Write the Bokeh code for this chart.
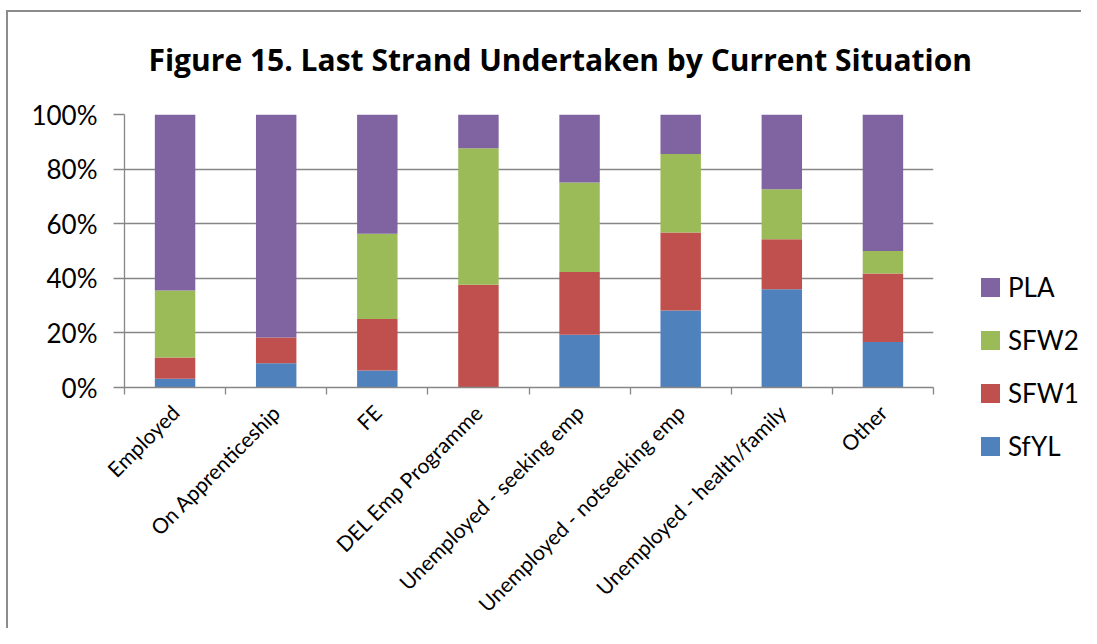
import numpy as np
from bokeh.plotting import figure
from bokeh.layouts import row
from bokeh.models import (FixedTicker, NumeralTickFormatter, ColumnDataSource,
                          Range1d, Title, Div)
from bokeh.embed import file_html
from bokeh.resources import INLINE

categories = ["Employed", "On Apprenticeship", "FE", "DEL Emp Programme",
              "Unemployed - seeking emp", "Unemployed - notseeking emp",
              "Unemployed - health/family", "Other"]
SfYL = [3.2, 8.9, 6.2, 0.0, 19.3, 28.2, 36.0, 16.7]
SFW1 = [7.8, 9.4, 18.9, 37.6, 23.0, 28.6, 18.3, 25.1]
SFW2 = [24.5, 0.0, 31.2, 50.0, 32.8, 28.7, 18.3, 8.2]
PLA = [64.5, 81.7, 43.7, 12.4, 24.9, 14.5, 27.4, 50.0]
series = ["SfYL", "SFW1", "SFW2", "PLA"]
colors = ["#4F81BD", "#C0504D", "#9BBB59", "#8064A2"]
y_ticks = [0, 0.2, 0.4, 0.6, 0.8, 1.0]

pos = [i + 0.5 for i in range(len(categories))]
src = ColumnDataSource(dict(
    x=pos,
    SfYL=[v / 100 for v in SfYL],
    SFW1=[v / 100 for v in SFW1],
    SFW2=[v / 100 for v in SFW2],
    PLA=[v / 100 for v in PLA],
))

FONT = "Lato"
GRAY = "#8c8c8c"
W1, W2, H = 980, 101, 628

p = figure(width=W1, height=H, output_backend="svg", toolbar_location=None,
           x_range=Range1d(0, len(categories)), y_range=Range1d(0, 1),
           min_border_left=124, min_border_right=47,
           min_border_top=114, min_border_bottom=240)
p.styles = {
    "background-image": f"linear-gradient({GRAY}, {GRAY}), linear-gradient({GRAY}, {GRAY})",
    "background-size": "2px 100%, 100% 2px",
    "background-position": "6px 10px, 6px 10px",
    "background-repeat": "no-repeat",
}
p.outline_line_color = None
p.background_fill_color = "white"
p.border_fill_alpha = 0

p.title = Title(text="Figure 15. Last Strand Undertaken by Current Situation",
                align="left", offset=24, text_font="Open Sans", text_font_style="bold",
                text_font_size="30px", text_color="#000000", standoff=70)

rs = p.vbar_stack(series, x="x", width=0.4, color=colors, source=src,
                  line_color=None)

# y axis
p.yaxis.ticker = FixedTicker(ticks=y_ticks)
p.yaxis.formatter = NumeralTickFormatter(format="0%")
p.yaxis.axis_line_color = "#868686"
p.yaxis.axis_line_width = 1.3
p.yaxis.major_tick_line_color = "#868686"
p.yaxis.major_tick_line_width = 1.3
p.yaxis.major_tick_out = 11
p.yaxis.major_tick_in = 0
p.yaxis.minor_tick_line_color = None
p.yaxis.major_label_standoff = 16
p.yaxis.major_label_text_font = FONT
p.yaxis.major_label_text_font_size = "26px"
p.yaxis.major_label_text_color = "#000000"

# x axis
p.xaxis.ticker = FixedTicker(ticks=pos, minor_ticks=list(range(len(categories) + 1)))
p.xaxis.major_label_overrides = {x: c for x, c in zip(pos, categories)}
p.xaxis.major_label_orientation = np.pi / 4
p.xaxis.major_tick_line_color = None
p.xaxis.major_tick_out = 0
p.xaxis.major_tick_in = 0
p.xaxis.minor_tick_line_color = "#868686"
p.xaxis.minor_tick_line_width = 1.3
p.xaxis.minor_tick_out = 7
p.xaxis.minor_tick_in = 0
p.xaxis.axis_line_color = "#868686"
p.xaxis.axis_line_width = 1.3
p.xaxis.major_label_standoff = 14
p.xaxis.major_label_text_font = FONT
p.xaxis.major_label_text_font_size = "21px"
p.xaxis.major_label_text_color = "#000000"

p.xgrid.grid_line_color = None
p.ygrid.ticker = FixedTicker(ticks=y_ticks)
p.ygrid.grid_line_color = "#868686"
p.ygrid.grid_line_width = 1.3

# legend (PLA on top, SfYL at the bottom)
rows_html = []
first_top, pitch = 271, 53
for i, (name, col) in enumerate(list(zip(series, colors))[::-1]):
    top = first_top + i * pitch
    rows_html.append(
        f'<div style="position:absolute;left:1px;top:{top}px;height:32px;'
        f'display:flex;align-items:center;gap:8px;white-space:nowrap;">'
        f'<span style="display:inline-block;width:19px;height:19px;background:{col};"></span>'
        f'<span>{name}</span></div>'
    )
legend_html = (
    f'<div style="position:relative;width:{W2}px;height:{H}px;'
    f'font-family:{FONT};font-size:26px;color:#000000;line-height:32px;">'
    + "".join(rows_html) + "</div>"
)
legend_div = Div(text=legend_html, width=W2, height=H, margin=0,
                 styles={
                     "background-image": f"linear-gradient({GRAY}, {GRAY})",
                     "background-size": "100% 2px",
                     "background-position": "0 10px",
                     "background-repeat": "no-repeat",
                 })

layout = row(p, legend_div)
open("out.html", "w").write(file_html(layout, INLINE))
